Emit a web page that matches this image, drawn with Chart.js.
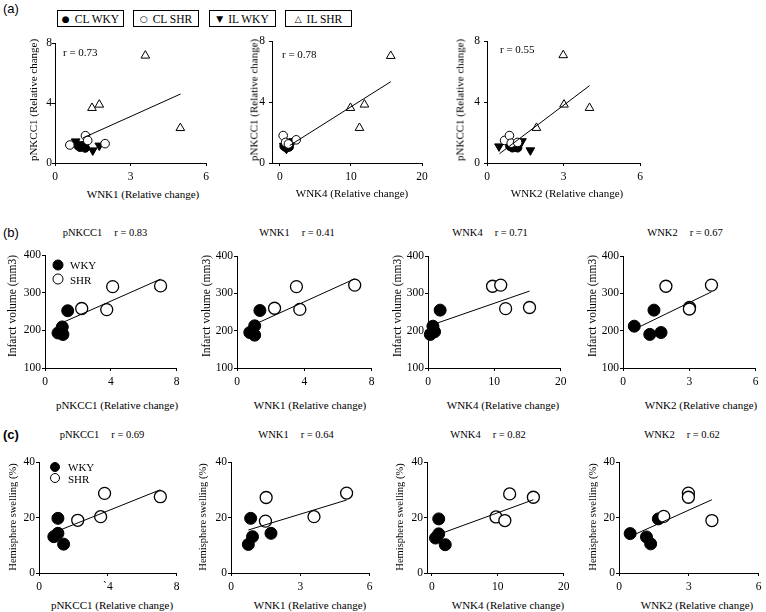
<!DOCTYPE html>
<html>
<head>
<meta charset="utf-8">
<script src="https://cdn.jsdelivr.net/npm/chart.js@4.4.1/dist/chart.umd.min.js"></script>
<style>
  html, body { margin:0; padding:0; background:#fff; }
  body { width:766px; height:612px; position:relative; overflow:hidden; font-family:"Liberation Serif","Times New Roman",serif; color:#000; }
  canvas { position:absolute; }
  .tx { position:absolute; white-space:pre; line-height:1; z-index:2; }
  .c { transform:translate(-50%,-50%); }
  .l { transform:translate(0,-50%); }
  .v { transform:translate(-50%,-50%) rotate(-90deg); }
  .lb { position:absolute; top:10px; height:17px; border:1px solid #000; box-sizing:border-box; display:flex; align-items:center; justify-content:center; font-size:11.5px; white-space:pre; z-index:2; background:#fff; }
  .sym { font-family:"DejaVu Sans",sans-serif; font-size:9px; margin-right:5px; }
  .dot { position:absolute; border:1px solid #000; border-radius:50%; box-sizing:border-box; z-index:2; transform:translate(-50%,-50%); }
</style>
</head>
<body>
<script>
// ================= DATA =================
// categories
const groupsA = ['CL WKY', 'CL SHR', 'IL WKY', 'IL SHR'];
const groupsBC = ['WKY', 'SHR'];
const xNamesA = ['WNK1', 'WNK4', 'WNK2'];
const xNamesBC = ['pNKCC1', 'WNK1', 'WNK4', 'WNK2'];
const rA = ['0.73', '0.78', '0.55'];
const rB = ['0.83', '0.41', '0.71', '0.67'];
const rC = ['0.69', '0.64', '0.82', '0.62'];

// tick values and labels
const ticks036 = [0, 3, 6];
const ticks01020 = [0, 10, 20];
const ticks048 = [0, 4, 8];
const ticksPNKCC1 = [0, 4, 8];
const ticksInfarct = [100, 200, 300, 400];
const ticksSwelling = [0, 20, 40];
const labels036 = ['0', '3', '6'];
const labels01020 = ['0', '10', '20'];
const labels048 = ['0', '4', '8'];
const labelsC1x = ['0', '`4', '8'];

// Row (a): x = WNK (relative change), y = pNKCC1 (relative change)
const a1ClWky = [[0.92,1.15],[1.0,1.05],[1.1,1.12],[1.2,1.0]];
const a1ClShr = [[0.59,1.2],[1.21,1.82],[1.3,1.5],[1.99,1.29]];
const a1IlWky = [[0.82,1.44],[1.05,1.25],[1.5,0.84],[1.76,1.16]];
const a1IlShr = [[3.59,7.16],[1.47,3.67],[1.76,3.89],[4.98,2.33]];
const a1Fit   = [[1.11,1.67],[4.99,4.6]];

const a2ClWky = [[0.6,1.1],[0.9,1.0],[1.1,1.15],[1.3,1.05]];
const a2ClShr = [[0.46,1.8],[0.8,1.35],[1.2,1.25],[2.3,1.52]];
const a2IlWky = [[0.55,1.12],[0.92,0.93],[1.1,1.05],[1.85,1.43]];
const a2IlShr = [[15.6,7.02],[9.93,3.61],[11.9,3.83],[11.2,2.3]];
const a2Fit   = [[1.39,1.15],[15.6,5.33]];

const a3ClWky = [[0.9,1.1],[1.0,1.0],[1.1,1.05],[1.2,1.0]];
const a3ClShr = [[0.69,1.48],[0.88,1.8],[0.95,1.3],[1.2,1.35]];
const a3IlWky = [[0.47,1.09],[1.05,1.2],[1.37,1.43],[1.7,0.83]];
const a3IlShr = [[2.99,7.07],[3.02,3.83],[4.02,3.61],[1.94,2.3]];
const a3Fit   = [[0.49,0.61],[4.02,5.07]];

// Row (b): y = infarct volume (mm3)
const b1Wky = [[0.79,193],[1.05,209],[1.09,189],[1.38,252]];
const b1Shr = [[2.23,258],[4.11,316],[3.75,255],[7.02,318]];
const b1Fit = [[0.93,218],[7.02,336]];
const b2Wky = [[0.76,195],[1.05,213],[1.05,188],[1.36,254]];
const b2Shr = [[2.23,260],[3.53,318],[3.73,257],[6.99,322]];
const b2Fit = [[1.2,220],[7.0,339]];
const b3Wky = [[0.35,190],[0.74,212],[0.99,197],[1.83,255]];
const b3Shr = [[9.73,319],[10.96,322],[11.7,259],[15.3,262]];
const b3Fit = [[0.84,217],[15.3,306]];
const b4Wky = [[0.51,212],[1.21,190],[1.4,255],[1.72,195]];
const b4Shr = [[1.94,319],[3.01,262],[3.0,258],[4.0,322]];
const b4Fit = [[0.56,205],[4.0,304]];

// Row (c): y = hemisphere swelling (%)
const c1Wky = [[0.86,13.1],[1.1,19.7],[1.1,14.3],[1.43,10.4]];
const c1Shr = [[2.25,19.0],[3.58,20.3],[3.81,28.7],[7.05,27.5]];
const c1Fit = [[0.99,14.9],[7.05,30.0]];
const c2Wky = [[0.75,10.3],[0.85,19.7],[0.93,13.1],[1.73,14.3]];
const c2Shr = [[1.49,18.7],[1.52,27.2],[3.59,20.3],[5.0,28.8]];
const c2Fit = [[0.75,15.5],[5.0,26.3]];
const c3Wky = [[0.55,12.6],[1.04,19.5],[1.04,14.1],[2.03,10.2]];
const c3Shr = [[9.73,20.2],[11.07,18.9],[11.8,28.5],[15.4,27.3]];
const c3Fit = [[0.89,13.8],[15.4,26.4]];
const c4Wky = [[0.48,14.2],[1.18,13.0],[1.36,10.5],[1.69,19.5]];
const c4Shr = [[1.92,20.4],[2.98,28.8],[2.98,27.3],[3.99,18.9]];
const c4Fit = [[0.49,13.2],[3.99,26.4]];

// ================= DRAWING =================
const SERIF = '"Liberation Serif","Times New Roman",serif';
const SANS = '"Liberation Sans",Arial,sans-serif';
const P = a => a.map(([x, y]) => ({x, y}));
const sFilled = r => ({pointStyle:'circle', pointRadius:r, pointBackgroundColor:'#000', pointBorderColor:'#000', pointBorderWidth:1});
const sOpen = (r, w) => ({pointStyle:'circle', pointRadius:r, pointBackgroundColor:'#fff', pointBorderColor:'#000', pointBorderWidth:w});
const sTriDown = r => ({pointStyle:'triangle', pointRotation:180, pointRadius:r, pointBackgroundColor:'#000', pointBorderColor:'#000', pointBorderWidth:1});
const sTriOpen = r => ({pointStyle:'triangle', pointRotation:0, pointRadius:r, pointBackgroundColor:'#fff', pointBorderColor:'#000', pointBorderWidth:1});
function pts(label, arr, style, order) {
  return Object.assign({label, data:P(arr), order, clip:false, showLine:false}, style);
}
function fitLine(arr) {
  return {label:'fit', data:P(arr), showLine:true, pointRadius:0, borderColor:'#000', borderWidth:1, order:0, clip:false};
}

function makeChart(g, xr, yr, xt, xl, yt, datasets, o) {
  const pL = 34, pT = 8, pR = 4, pB = 24;
  const W = g.R - g.L + pL + pR, Hh = g.B - g.T + pT + pB;
  const cv = document.createElement('canvas');
  cv.width = W; cv.height = Hh;
  cv.style.left = (g.L - pL) + 'px'; cv.style.top = (g.T - pT) + 'px';
  cv.style.width = W + 'px'; cv.style.height = Hh + 'px';
  document.body.appendChild(cv);
  const tickFont = {family: SERIF, size: 11.5};
  const grid = {display:true, drawOnChartArea:false, drawTicks:true, tickLength:3, color:'#000', lineWidth:1};
  const border = {display:true, color:'#000', width:1};
  new Chart(cv.getContext('2d'), {
    type: 'scatter',
    data: {datasets},
    options: {
      responsive:false, maintainAspectRatio:false, animation:false, devicePixelRatio:1, events:[],
      layout: {padding:{left:0, top:pT, right:pR, bottom:0}},
      plugins: {legend:{display:false}, tooltip:{enabled:false}, title:{display:false}},
      scales: {
        x: {type:'linear', position:'bottom', min:xr[0], max:xr[1], grid, border,
            afterBuildTicks: s => { s.ticks = xt.map(v => ({value:v})); },
            afterFit: s => { s.height = pB; s.paddingLeft = 0; s.paddingRight = 0; },
            ticks: {color:'#000', font:tickFont, padding:o.xpad, autoSkip:false, maxRotation:0, minRotation:0, callback:(v, i) => xl[i]}},
        y: {type:'linear', position:'left', min:yr[0], max:yr[1], grid, border,
            afterBuildTicks: s => { s.ticks = yt.map(v => ({value:v})); },
            afterFit: s => { s.width = pL; s.paddingTop = 0; s.paddingBottom = 0; },
            ticks: {color:'#000', font:tickFont, padding:o.ypad, autoSkip:false, callback:(v, i) => String(yt[i])}}
      }
    }
  });
}

function txt(cls, x, y, s, size, extra) {
  const d = document.createElement('div');
  d.className = 'tx ' + cls;
  d.style.left = x + 'px'; d.style.top = y + 'px';
  d.style.fontSize = size + 'px';
  d.textContent = s;
  if (extra) Object.assign(d.style, extra);
  document.body.appendChild(d);
  return d;
}
function title(x, y, name, r, size, gap) {
  const d = txt('c', x, y, '', size);
  const a = document.createElement('span'); a.textContent = name;
  const b = document.createElement('span'); b.textContent = 'r = ' + r; b.style.marginLeft = gap + 'px';
  d.appendChild(a); d.appendChild(b);
}
function dot(x, y, d, fill) {
  const e = document.createElement('div');
  e.className = 'dot';
  Object.assign(e.style, {left:x + 'px', top:y + 'px', width:d + 'px', height:d + 'px', background:fill});
  document.body.appendChild(e);
}

// ----- Row (a) -----
const geomA = [
  {L:55, T:43, R:208, B:163, xr:[0,6], xt:ticks036, xl:labels036, xpad:4, ypad:0},
  {L:272, T:41, R:424, B:163, xr:[-1.11,20], xt:ticks01020, xl:labels01020, xpad:4, ypad:4},
  {L:487, T:41, R:642, B:163, xr:[0,6], xt:ticks036, xl:labels036, xpad:4, ypad:4}
];
const setsA = [
  [a1ClWky, a1ClShr, a1IlWky, a1IlShr, a1Fit],
  [a2ClWky, a2ClShr, a2IlWky, a2IlShr, a2Fit],
  [a3ClWky, a3ClShr, a3IlWky, a3IlShr, a3Fit]
];
geomA.forEach((g, i) => {
  const s = setsA[i];
  makeChart(g, g.xr, [0, 8], g.xt, g.xl, ticksPNKCC1, [
    fitLine(s[4]),
    pts(groupsA[3], s[3], sTriOpen(5), 1),
    pts(groupsA[1], s[1], sOpen(4.3, 1), 2),
    pts(groupsA[2], s[2], sTriDown(5), 3),
    pts(groupsA[0], s[0], sFilled(4.3), 4)
  ], g);
});

// ----- Row (b) -----
const geomB = [
  {L:45, T:255, R:180, B:368, xr:[0,8], xt:ticks048, xl:labels048},
  {L:237, T:256, R:375, B:368, xr:[0,8], xt:ticks048, xl:labels048},
  {L:428, T:256, R:564, B:368, xr:[0,20], xt:ticks01020, xl:labels01020},
  {L:623, T:256, R:759, B:368, xr:[0,6], xt:ticks036, xl:labels036}
];
const setsB = [[b1Wky, b1Shr, b1Fit], [b2Wky, b2Shr, b2Fit], [b3Wky, b3Shr, b3Fit], [b4Wky, b4Shr, b4Fit]];
geomB.forEach((g, i) => {
  const s = setsB[i];
  makeChart(g, g.xr, [100, 400], g.xt, g.xl, ticksInfarct, [
    fitLine(s[2]),
    pts(groupsBC[1], s[1], sOpen(6, 1.3), 1),
    pts(groupsBC[0], s[0], sFilled(6), 2)
  ], {xpad:4, ypad:1});
});

// ----- Row (c) -----
const geomC = [
  {L:39, T:462, R:180, B:573, xr:[0,8], xt:ticks048, xl:labelsC1x},
  {L:231, T:462, R:373, B:573, xr:[0,6], xt:ticks036, xl:labels036},
  {L:427, T:462, R:567, B:573, xr:[-0.74,20], xt:ticks01020, xl:labels01020},
  {L:619, T:462, R:762, B:573, xr:[0,6], xt:ticks036, xl:labels036}
];
const setsC = [[c1Wky, c1Shr, c1Fit], [c2Wky, c2Shr, c2Fit], [c3Wky, c3Shr, c3Fit], [c4Wky, c4Shr, c4Fit]];
geomC.forEach((g, i) => {
  const s = setsC[i];
  makeChart(g, g.xr, [0, 40], g.xt, g.xl, ticksSwelling, [
    fitLine(s[2]),
    pts(groupsBC[1], s[1], sOpen(6, 1.3), 1),
    pts(groupsBC[0], s[0], sFilled(6), 2)
  ], {xpad:4, ypad:1});
});

// ----- Text -----
// panel letters
txt('l', 3, 8, '(a)', 13, {fontFamily:SANS});
txt('l', 3, 232, '(b)', 13, {fontFamily:SANS});
txt('l', 3, 434, '(c)', 13, {fontFamily:SANS, fontWeight:'bold'});

// row (a) legend boxes
const boxPos = [[57,67],[133,66],[209,67],[285,67]];
const boxSym = ['\u25CF', '\u25CB', '\u25BC', '\u25B3'];
groupsA.forEach((gname, i) => {
  const b = document.createElement('div');
  b.className = 'lb';
  b.style.left = boxPos[i][0] + 'px'; b.style.width = boxPos[i][1] + 'px';
  const sy = document.createElement('span'); sy.className = 'sym'; sy.textContent = boxSym[i];
  const t = document.createElement('span'); t.textContent = gname;
  b.appendChild(sy); b.appendChild(t);
  document.body.appendChild(b);
});

// row (a) labels
const rPosA = [[63,52],[282,54],[500,49]];
rA.forEach((r, i) => txt('l', rPosA[i][0], rPosA[i][1], 'r = ' + r, 11));
const yTitleA = [33, 254, 460];
yTitleA.forEach(x => txt('v', x, 100, 'pNKCC1 (Relative change)', 11));
const xTitleA = [[143,194],[352,193],[567,193]];
xNamesA.forEach((n, i) => txt('c', xTitleA[i][0], xTitleA[i][1], n + ' (Relative change)', 11));

// row (b)
const tB = [105, 297, 490, 685];
xNamesBC.forEach((n, i) => title(tB[i], 233, n, rB[i], 10.5, 12));
[13, 207, 398, 593].forEach(x => txt('v', x, 306, 'Infarct volume (mm3)', 11.5));
[117, 310, 503, 701].forEach((x, i) => txt('c', x, 405, xNamesBC[i] + ' (Relative change)', 11));
dot(58, 265, 11, '#000'); dot(58, 279, 11, '#fff');
txt('l', 70, 265, groupsBC[0], 11); txt('l', 70, 280, groupsBC[1], 11);

// row (c)
const tC = [102, 296, 488, 682];
xNamesBC.forEach((n, i) => title(tC[i], 435, n, rC[i], 10.5, 12));
[13, 203, 400, 593].forEach(x => txt('v', x, 517, 'Hemisphere swelling (%)', 10.5));
[112, 310, 508, 697].forEach((x, i) => txt('c', x, 605, xNamesBC[i] + ' (Relative change)', 11));
dot(55, 467, 10, '#000'); dot(55, 478, 10, '#fff');
txt('l', 68, 467, groupsBC[0], 11); txt('l', 68, 479, groupsBC[1], 11);
</script>
</body>
</html>
